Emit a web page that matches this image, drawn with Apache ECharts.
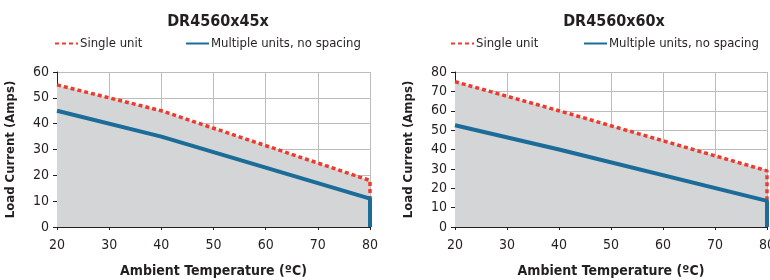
<!DOCTYPE html>
<html>
<head>
<meta charset="utf-8">
<script src="https://cdn.jsdelivr.net/npm/echarts@6/dist/echarts.min.js"></script>
<style>
  html, body { margin: 0; padding: 0; background: #fff; }
  #chart { width: 770px; height: 280px; }
</style>
</head>
<body>
<div id="chart"></div>
<script>
// 数据
var titles = ['DR4560x45x', 'DR4560x60x'];
var seriesNames = ['Single unit', 'Multiple units, no spacing'];
var temps = [20, 40, 80, 80];
var single45 = [55, 45, 18, 0];
var multi45 = [45, 35, 11, 0];
var single60 = [75, 60, 29, 0];
var multi60 = [52.5, 40, 13.5, 0];
var yMax = [60, 80];

var font = "'DejaVu Sans Condensed', 'Liberation Sans Narrow', sans-serif";
var red = '#ee3a2c', blue = '#1b6c98', fillGray = '#d4d5d7', ink = '#231f20';

function pairs(xs, ys) {
    return xs.map(function (x, i) { return [x, ys[i]]; });
}

var chart = echarts.init(document.getElementById('chart'));

var grids = [
    { left: 57, top: 72, width: 313, height: 155, outerBoundsMode: 'none' },
    { left: 455, top: 72, width: 312, height: 155, outerBoundsMode: 'none' }
];
var centers = [213, 609];

function xAxis(i) {
    return {
        gridIndex: i, type: 'value', min: 20, max: 80, interval: 10,
        name: 'Ambient Temperature (ºC)', nameLocation: 'middle', nameGap: 37,
        nameTextStyle: { fontFamily: font, fontWeight: 'bold', fontSize: 14, color: ink },
        axisLine: { show: true, lineStyle: { color: ink, width: 1 } },
        axisTick: { show: true, length: 3, lineStyle: { color: ink } },
        axisLabel: { fontFamily: font, fontSize: 14, color: ink, margin: 11 },
        splitLine: { show: true, lineStyle: { color: '#bcbcbc', width: 1 } }
    };
}
function yAxis(i) {
    return {
        gridIndex: i, type: 'value', min: 0, max: yMax[i], interval: 10,
        name: 'Load Current (Amps)', nameLocation: 'middle', nameGap: 40,
        nameTextStyle: { fontFamily: font, fontWeight: 'bold', fontSize: 13, color: ink },
        axisLine: { show: true, lineStyle: { color: ink, width: 1 } },
        axisTick: { show: true, length: 4, lineStyle: { color: ink } },
        axisLabel: { fontFamily: font, fontSize: 14, color: ink, margin: 8 },
        splitLine: { show: true, lineStyle: { color: '#bcbcbc', width: 1 } }
    };
}
function singleSeries(i, ys) {
    return {
        name: seriesNames[0], type: 'line', xAxisIndex: i, yAxisIndex: i,
        data: pairs(temps, ys), symbol: 'none', z: 2,
        lineStyle: { color: red, width: 3.5, type: [4, 3] },
        itemStyle: { color: red },
        areaStyle: { color: fillGray, opacity: 1 }
    };
}
function multiSeries(i, ys) {
    return {
        name: seriesNames[1], type: 'line', xAxisIndex: i, yAxisIndex: i,
        data: pairs(temps, ys), symbol: 'none', z: 3,
        lineStyle: { color: blue, width: 4 },
        itemStyle: { color: blue }
    };
}
function legend(left, name) {
    return {
        left: left, top: 37, padding: 0, itemWidth: 23, itemHeight: 4,
        selectedMode: false,
        itemStyle: { opacity: 0 },
        textStyle: { fontFamily: font, fontSize: 13, color: ink, padding: [0, 0, 0, -3] },
        data: [name]
    };
}

option = {
    animation: false,
    title: titles.map(function (t, i) {
        return {
            text: t, left: centers[i], top: 9, textAlign: 'center',
            textStyle: { fontFamily: font, fontWeight: 'bold', fontSize: 16, color: ink }
        };
    }),
    legend: [
        legend(54, seriesNames[0]), legend(185, seriesNames[1]),
        legend(450, seriesNames[0]), legend(583, seriesNames[1])
    ],
    grid: grids,
    xAxis: [xAxis(0), xAxis(1)],
    yAxis: [yAxis(0), yAxis(1)],
    series: [
        singleSeries(0, single45), multiSeries(0, multi45),
        singleSeries(1, single60), multiSeries(1, multi60)
    ]
};
chart.setOption(option);
</script>
</body>
</html>
